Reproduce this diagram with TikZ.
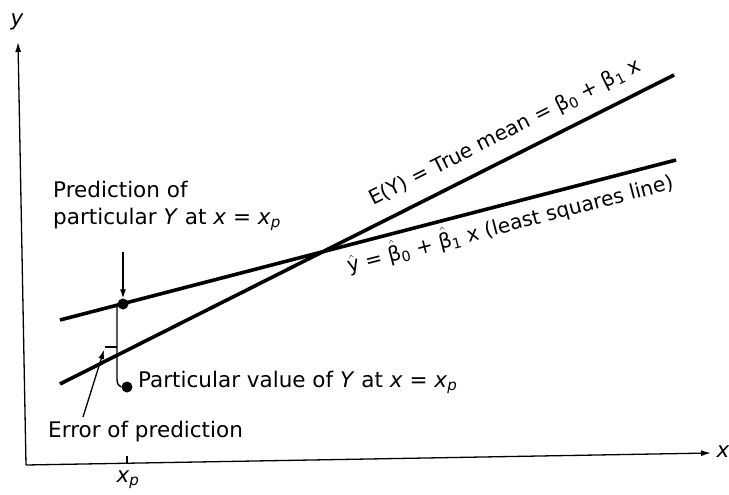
\documentclass[tikz,border=0pt]{standalone}
\usepackage{fontspec}
\setmainfont{DejaVu Sans}
\usetikzlibrary{arrows.meta}
\newcommand{\bhat}{$\hat{\mbox{β}}$}
\newcommand{\yhat}{$\hat{\mbox{y}}$}
\begin{document}
\begin{tikzpicture}[x=1pt,y=-1pt,
  axis/.style={line width=1.3pt,-{Latex[length=10pt,width=6pt]}},
  regline/.style={line width=3.6pt},
  thinl/.style={line width=1.4pt},
  ptr/.style={line width=1.3pt,-{Latex[length=9pt,width=6pt]}},
  lbl/.style={font=\fontsize{21.5}{26}\selectfont, inner sep=0pt},
  rlbl/.style={font=\fontsize{20.3}{24}\selectfont, inner sep=0pt},
  dotn/.style={circle,fill,inner sep=0pt,minimum size=11pt}]
\useasboundingbox (0,0) rectangle (729,495);
% axes
\coordinate (O) at (26,465);
\coordinate (ytip) at (18,42);
\coordinate (xtip) at (711,453);
\draw[axis] (O) -- (ytip);
\draw[axis] (O) -- (xtip);
\node[lbl] (ylab) at (17,22) {\itshape y};
\node[lbl] (xlab) at (723,452) {\itshape x};
\coordinate (tk1) at (127,464);
\coordinate (tk2) at (127,456);
\draw[thinl] (tk1) -- (tk2);
\node[lbl] (xp) at (128,480) {\itshape x\textsubscript{p}};
% regression lines
\coordinate (LS1) at (60,320);
\coordinate (LS2) at (676,160);
\coordinate (TM1) at (60,384);
\coordinate (TM2) at (674,75);
\draw[regline] (LS1) -- (LS2);
\draw[regline] (TM1) -- (TM2);
\node[rlbl, rotate=26.7, anchor=base west] (tm) at (373,206)
  {E(Y) = True mean = β\textsubscript{0} + β\textsubscript{1} x};
\node[rlbl, rotate=14.5, anchor=base west] (ls) at (349,273)
  {\yhat{} = \bhat\textsubscript{0} + \bhat\textsubscript{1} x (least squares line)};
% points
\node[dotn] (pred) at (123,304) {};
\node[dotn] (part) at (127,387) {};
\coordinate (b1) at (117,304);
\coordinate (b2) at (117,375);
\draw[thinl] (b1) -- (b2) .. controls (117,384) .. (part.west);
\coordinate (t1) at (105,347);
\draw[thinl] (t1) -- (t1 -| b1);
% labels
\node[lbl, anchor=base west] (pt1) at (53,197) {Prediction of};
\node[lbl, anchor=base west] (pt2) at (53,224)
  {particular \textit{Y} at \textit{x} = \textit{x}\textsubscript{\textit{p}}};
\coordinate (pa) at (123,252);
\draw[ptr] (pa) -- (pred.north);
\node[lbl, anchor=base west] (pv) at (138,387)
  {Particular value of \textit{Y} at \textit{x} = \textit{x}\textsubscript{\textit{p}}};
\node[lbl, anchor=base west] (err) at (48,437) {Error of prediction};
\coordinate (eptail) at (83,417);
\coordinate (ephead) at (104,350);
\draw[ptr] (eptail) -- (ephead);
\end{tikzpicture}
\end{document}
